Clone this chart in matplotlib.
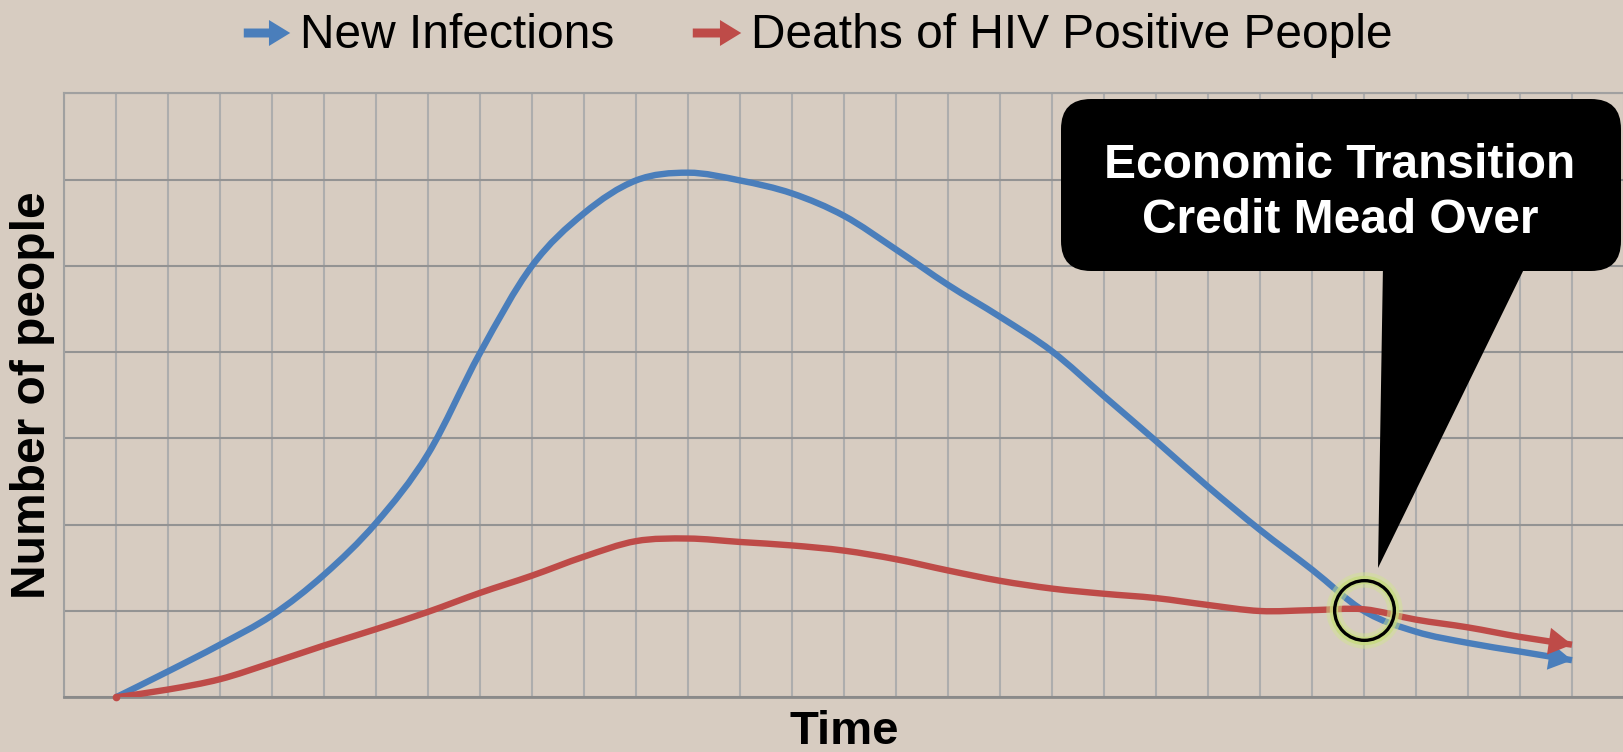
import numpy as np
import matplotlib
matplotlib.use("Agg")
import matplotlib.pyplot as plt
from matplotlib.patches import FancyBboxPatch, Polygon, PathPatch, FancyArrowPatch
from matplotlib.path import Path

# ---------------- data ----------------
time_idx = list(range(1, 30))
new_infections = [0.00, 0.30, 0.61, 0.95, 1.42, 2.02, 2.82, 3.99, 5.00, 5.61,
                  5.99, 6.08, 5.99, 5.84, 5.58, 5.19, 4.78, 4.41, 4.01, 3.49,
                  2.97, 2.44, 1.94, 1.48, 1.00, 0.76, 0.63, 0.53, 0.43]
deaths_hiv = [0.00, 0.09, 0.21, 0.40, 0.60, 0.79, 0.99, 1.21, 1.41, 1.63,
              1.81, 1.84, 1.80, 1.76, 1.70, 1.60, 1.47, 1.35, 1.26, 1.20,
              1.15, 1.07, 1.00, 1.01, 1.02, 0.90, 0.81, 0.70, 0.61]
series_labels = ["New Infections", "Deaths of HIV Positive People"]
callout_text = "Economic Transition\nCredit Mead Over"
x_label = "Time"
y_label = "Number of people"

BG = "#D7CCC1"
BLUE = "#4A7EBB"
RED = "#BE4B48"

plt.rcParams['font.family'] = ['Liberation Sans', 'DejaVu Sans']

fig = plt.figure(figsize=(16.24, 7.52), dpi=100)
fig.patch.set_facecolor(BG)
ax = fig.add_axes([64/1624, (752-697.3)/752, 1560/1624, 604/752])
ax.set_facecolor(BG)

x = np.array(time_idx, dtype=float)
b = np.array(new_infections)
r = np.array(deaths_hiv)

ax.set_xlim(0, 30)
ax.set_ylim(0, 7)
ax.set_xticks(np.arange(0, 31, 1))
ax.set_yticks(np.arange(0, 8, 1))
ax.tick_params(length=0, labelbottom=False, labelleft=False)
ax.xaxis.grid(True, color="#ADADAD", lw=1.5)
ax.yaxis.grid(True, color="#939393", lw=1.5)
ax.set_axisbelow(True)
ax.spines["right"].set_visible(False)
for s in ["left", "top"]:
    ax.spines[s].set_color("#A0A0A0")
    ax.spines[s].set_linewidth(1.5)
ax.spines["bottom"].set_color("#8A8A8A")
ax.spines["bottom"].set_linewidth(2)


def smooth_path(xs, ys):
    """Smoothed (Catmull-Rom style) line through the data points, as a Bezier path."""
    pts = np.column_stack([xs, ys])
    ext = np.vstack([pts[0], pts, pts[-1]])
    verts = [pts[0]]
    codes = [Path.MOVETO]
    for i in range(len(pts) - 1):
        p0, p1, p2, p3 = ext[i], ext[i + 1], ext[i + 2], ext[i + 3]
        c1 = p1 + (p2 - p0) / 6.0
        c2 = p2 - (p3 - p1) / 6.0
        verts += [c1, c2, p2]
        codes += [Path.CURVE4] * 3
    return Path(verts, codes)


lw = 4.6
for yv, col in [(b, BLUE), (r, RED)]:
    ax.add_patch(PathPatch(smooth_path(x, yv), facecolor="none", edgecolor=col, lw=lw,
                           capstyle="butt", joinstyle="round", zorder=3))
    ax.annotate("", xy=(x[-1], yv[-1]), xytext=(x[-2], yv[-2]),
                arrowprops=dict(arrowstyle="-|>,head_length=0.62,head_width=0.36",
                                color=col, lw=0, shrinkA=0, shrinkB=0,
                                mutation_scale=27), zorder=4)
ax.plot(x[0], r[0], 'o', color=RED, ms=4.5, zorder=4, clip_on=False)

# crossing highlight (computed from the data)
late = np.arange(len(x)) > len(x) // 2
ci = np.where(late)[0][np.argmin(np.abs(b - r)[late])]
cx, cy = x[ci], (b[ci] + r[ci]) / 2
ax.plot(cx, cy, 'o', ms=44, mfc="none", mec="#D2E58E", mew=11, alpha=0.45, zorder=5)
ax.plot(cx, cy, 'o', ms=44, mfc="none", mec="#C6DC7C", mew=6, alpha=0.75, zorder=5)
ax.plot(cx, cy, 'o', ms=43, mfc="none", mec="black", mew=2.4, zorder=6)

ax.set_xlabel(x_label, fontsize=34, fontweight="bold", labelpad=9)
fig.text(33/1624, 1 - 395/752, y_label, rotation=90, fontsize=34.5, fontweight="bold",
         ha="center", va="center")

# legend (manual, top)
for (x0, x1, tx), col, lab in zip([(241, 293, 300), (690, 744, 751)], [BLUE, RED], series_labels):
    fig.add_artist(FancyArrowPatch(
        (x0, 752 - 33), (x1, 752 - 33), transform=None,
        arrowstyle="simple,head_length=0.9,head_width=1.1,tail_width=0.38",
        mutation_scale=17, color=col, lw=0))
    fig.text(tx / 1624, 1 - 35 / 752, lab, fontsize=34.5, ha="left", va="center")

# callout
box = FancyBboxPatch((1061 + 30, 752 - 271 + 30), 560 - 60, 172 - 60,
                     boxstyle="round,pad=30", transform=None,
                     facecolor="black", edgecolor="black", lw=0, zorder=10)
fig.add_artist(box)
tail = Polygon([(1383, 752 - 265), (1526, 752 - 265), (1378, 752 - 568)],
               closed=True, transform=None, facecolor="black", edgecolor="none", zorder=10)
fig.add_artist(tail)
fig.text(1340 / 1624, 1 - 193 / 752, callout_text, color="white", fontsize=34.5,
         fontweight="bold", ha="center", va="center", linespacing=1.3, zorder=11)

fig.savefig("out.png", dpi=100, facecolor=BG)
